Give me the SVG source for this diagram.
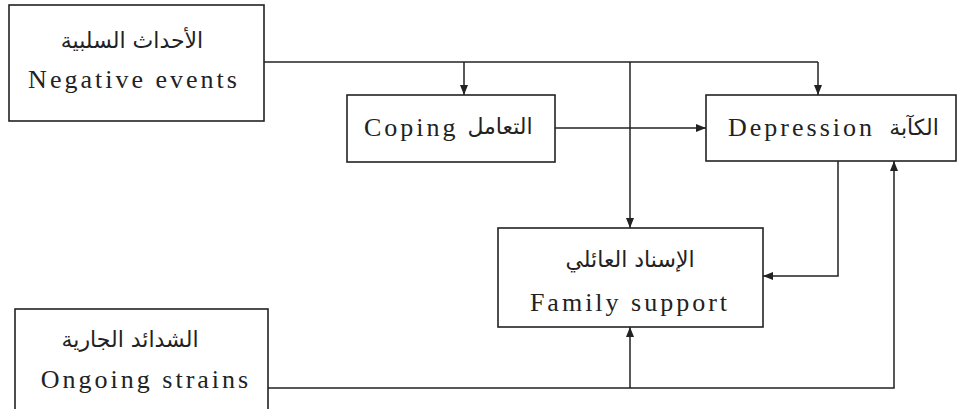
<svg xmlns="http://www.w3.org/2000/svg" width="965" height="409" viewBox="0 0 965 409">
<style>
.box{fill:#fff;stroke:#222;stroke-width:1.6}
.ln{fill:none;stroke:#222;stroke-width:1.5}
.en{font-family:"Liberation Serif","Times New Roman",serif;font-size:26px;letter-spacing:3px;fill:#222}
.ar{font-family:"DejaVu Sans","Noto Sans",sans-serif;font-size:22px;fill:#222}
</style>
<defs>
<marker id="ah" viewBox="0 0 10 10" refX="10" refY="5" markerWidth="10" markerHeight="10" markerUnits="userSpaceOnUse" orient="auto">
<path d="M0,1 L10,5 L0,9 Z" fill="#222"/>
</marker>
</defs>
<rect width="965" height="409" fill="#fff"/>
<g id="connectors">
<path class="ln" d="M264,62 H818"/>
<path class="ln" d="M464,62 V95" marker-end="url(#ah)"/>
<path class="ln" d="M818,62 V95" marker-end="url(#ah)"/>
<path class="ln" d="M630,62 V228" marker-end="url(#ah)"/>
<path class="ln" d="M555,128 H706" marker-end="url(#ah)"/>
<path class="ln" d="M838,161 V276 H763" marker-end="url(#ah)"/>
<path class="ln" d="M268,388 H894 V161" marker-end="url(#ah)"/>
<path class="ln" d="M630,388 V327" marker-end="url(#ah)"/>
</g>
<g id="negative-events">
<rect class="box" x="9" y="5" width="255" height="116"/>
<text class="ar" x="132" y="48" text-anchor="middle">الأحداث السلبية</text>
<text class="en" x="134" y="88" text-anchor="middle">Negative events</text>
</g>
<g id="coping">
<rect class="box" x="347" y="95" width="208" height="67"/>
<text class="en" x="364" y="136">Coping</text>
<text class="ar" x="500" y="134" text-anchor="middle">التعامل</text>
</g>
<g id="depression">
<rect class="box" x="706" y="95" width="250" height="66"/>
<text class="en" x="728" y="136">Depression</text>
<text class="ar" x="914" y="135" text-anchor="middle">الكآبة</text>
</g>
<g id="family-support">
<rect class="box" x="498" y="228" width="265" height="99"/>
<text class="ar" x="630" y="267" text-anchor="middle">الإسناد العائلي</text>
<text class="en" x="630" y="311" text-anchor="middle">Family support</text>
</g>
<g id="ongoing-strains">
<rect class="box" x="15" y="309" width="253" height="110"/>
<text class="ar" x="130" y="347" text-anchor="middle">الشدائد الجارية</text>
<text class="en" x="146" y="388" text-anchor="middle">Ongoing strains</text>
</g>
</svg>
